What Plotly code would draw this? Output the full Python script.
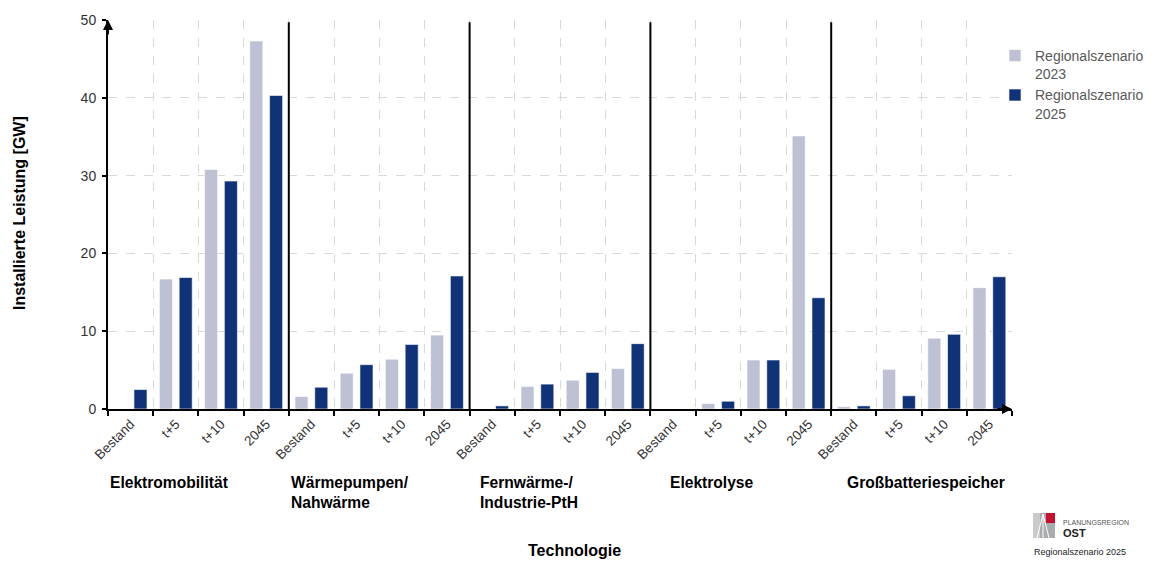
import plotly.graph_objects as go

groups = ["Elektromobilität", "Wärmepumpen/<br>Nahwärme", "Fernwärme-/<br>Industrie-PtH",
          "Elektrolyse", "Großbatteriespeicher"]
periods = ["Bestand", "t+5", "t+10", "2045"]

rs2023 = [0.0, 16.7, 30.8, 47.3,
          1.6, 4.6, 6.4, 9.5,
          0.0, 2.9, 3.7, 5.2,
          0.0, 0.7, 6.3, 35.1,
          0.3, 5.1, 9.1, 15.6]
rs2025 = [2.5, 16.9, 29.3, 40.3,
          2.8, 5.7, 8.3, 17.1,
          0.4, 3.2, 4.7, 8.4,
          0.0, 1.0, 6.3, 14.3,
          0.4, 1.7, 9.6, 17.0]

cats = [f"{g.replace('<br>', ' ')} | {p}" for g in groups for p in periods]
ticktext = [p for g in groups for p in periods]

LIGHT = "#bec1d3"
DARK = "#0f3278"
FONT = "Liberation Sans, Arial, sans-serif"

OFF = 8  # page margin of the html body
W, H = 1151 - 2 * OFF, 561 - OFF
L, T = 108 - OFF, 20 - OFF
R = W - (1012 - OFF)
B = H - (409 - OFF)
PW, PH = W - L - R, H - T - B


def px(x):
    return (x - OFF - L) / PW


def py(y):
    return (H - B - (y - OFF)) / PH


fig = go.Figure()
fig.add_trace(go.Bar(x=cats, y=rs2023, name="Regionalszenario<br>2023",
                     marker=dict(color=LIGHT, line=dict(color="white", width=0.6))))
fig.add_trace(go.Bar(x=cats, y=rs2025, name="Regionalszenario<br>2025",
                     marker=dict(color=DARK, line=dict(color="white", width=0.6))))

shapes = []
for i in range(1, len(groups)):
    xb = i * len(periods) - 0.5
    shapes.append(dict(type="line", xref="x", yref="y", x0=xb, x1=xb, y0=0, y1=49.7,
                       line=dict(color="black", width=2), layer="above"))

# logo
shapes += [
    dict(type="rect", xref="paper", yref="paper", x0=px(1033), x1=px(1055), y0=py(538), y1=py(513),
         fillcolor="#a9abae", line=dict(width=0)),
    dict(type="rect", xref="paper", yref="paper", x0=px(1033), x1=px(1040), y0=py(538), y1=py(513),
         fillcolor="#c9cacc", line=dict(width=0)),
    dict(type="rect", xref="paper", yref="paper", x0=px(1046), x1=px(1055), y0=py(523), y1=py(513),
         fillcolor="#c8102e", line=dict(width=0)),
    dict(type="line", xref="paper", yref="paper", x0=px(1037), x1=px(1043), y0=py(538), y1=py(514),
         line=dict(color="white", width=1)),
    dict(type="line", xref="paper", yref="paper", x0=px(1043), x1=px(1049), y0=py(514), y1=py(538),
         line=dict(color="white", width=1)),
    dict(type="line", xref="paper", yref="paper", x0=px(1043), x1=px(1043), y0=py(514), y1=py(538),
         line=dict(color="white", width=1)),
]

annotations = []
group_x = [108, 289, 478, 668, 845]
for g, gx in zip(groups, group_x):
    annotations.append(dict(text=f"<b>{g}</b>", xref="paper", yref="paper", x=px(gx), y=py(472),
                            xanchor="left", yanchor="top", align="left", showarrow=False,
                            font=dict(family=FONT, size=15.6, color="black")))
annotations.append(dict(text="<b>Technologie</b>", xref="paper", yref="paper", x=px(574), y=py(550),
                        xanchor="center", yanchor="middle", showarrow=False,
                        font=dict(family=FONT, size=16, color="black")))
annotations.append(dict(text="<b>Installierte Leistung [GW]</b>", xref="paper", yref="paper",
                        x=px(19), y=py(213), xanchor="center", yanchor="middle", textangle=-90,
                        showarrow=False, font=dict(family=FONT, size=16, color="black")))
# axis arrows
annotations.append(dict(text="", xref="x", yref="y", x=19.5, y=0, ax=-16, ay=0, showarrow=True,
                        arrowhead=2, arrowsize=1, arrowwidth=2, arrowcolor="black"))
annotations.append(dict(text="", xref="x", yref="y", x=-0.5, y=50, ax=0, ay=16, showarrow=True,
                        arrowhead=2, arrowsize=1, arrowwidth=2, arrowcolor="black"))
# logo text
annotations += [
    dict(text="PLANUNGSREGION", xref="paper", yref="paper", x=px(1061), y=py(522), xanchor="left",
         yanchor="middle", showarrow=False, font=dict(family=FONT, size=7, color="#555555")),
    dict(text="<b>OST</b>", xref="paper", yref="paper", x=px(1061), y=py(533), xanchor="left",
         yanchor="middle", showarrow=False, font=dict(family=FONT, size=11, color="#222222")),
    dict(text="Regionalszenario 2025", xref="paper", yref="paper", x=px(1032), y=py(552), xanchor="left",
         yanchor="middle", showarrow=False, font=dict(family=FONT, size=9, color="#222222")),
]

fig.update_layout(
    width=W, height=H,
    margin=dict(l=L, r=R, t=T, b=B, autoexpand=False),
    paper_bgcolor="white", plot_bgcolor="white",
    barmode="group", bargap=0.125, bargroupgap=0.34,
    font=dict(family=FONT, size=13, color="#333333"),
    showlegend=True,
    legend=dict(x=px(995), y=py(40), xanchor="left", yanchor="top", valign="top",
                font=dict(family=FONT, size=14, color="#595959"),
                itemwidth=30, bgcolor="rgba(0,0,0,0)"),
    shapes=shapes, annotations=annotations,
)
fig.update_xaxes(type="category", categoryorder="array", categoryarray=cats,
                 tickmode="array", tickvals=cats, ticktext=ticktext, tickangle=-45,
                 tickson="boundaries", ticks="outside", ticklen=5, tickwidth=2, tickcolor="black",
                 showline=True, linecolor="black", linewidth=2,
                 showgrid=True, gridcolor="#d9d9d9", griddash="dash", gridwidth=1,
                 range=[-0.5, 19.5], tickfont=dict(family=FONT, size=13.5, color="#333333"))
fig.update_yaxes(range=[0, 50], tickvals=[0, 10, 20, 30, 40, 50], ticks="outside", ticklen=4,
                 tickwidth=1.5, tickcolor="black", ticklabelstandoff=3,
                 showline=True, linecolor="black", linewidth=2, zeroline=False,
                 showgrid=True, gridcolor="#d9d9d9", griddash="dash", gridwidth=1,
                 tickfont=dict(family=FONT, size=14, color="#333333"))

fig.write_html("out.html")
